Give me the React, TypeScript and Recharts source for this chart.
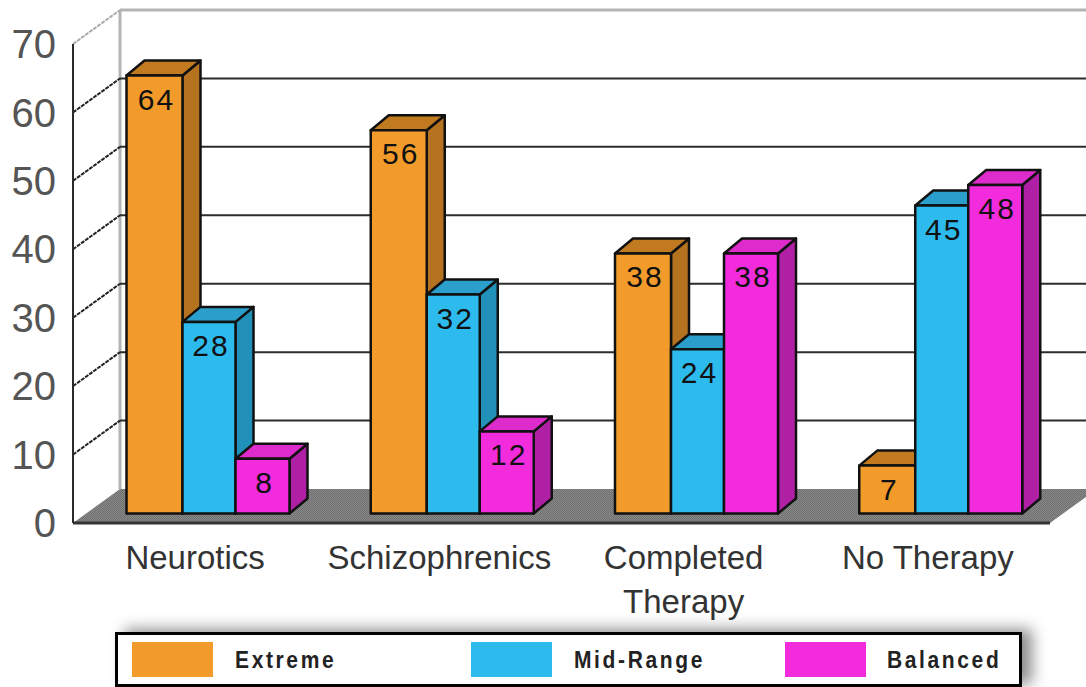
import React from "react";
import { BarChart, Bar, XAxis, YAxis, CartesianGrid, Legend } from "recharts";

const categoryLines = [["Neurotics"], ["Schizophrenics"], ["Completed", "Therapy"], ["No Therapy"]];
const categories = categoryLines.map((l) => l.join(" "));
const extreme = [64, 56, 38, 7];
const midRange = [28, 32, 24, 45];
const balanced = [8, 12, 38, 48];
const yTicks = [0, 10, 20, 30, 40, 50, 60, 70];

const rows = categories.map((name, i) => ({
  name,
  Extreme: extreme[i],
  "Mid-Range": midRange[i],
  Balanced: balanced[i],
}));

const FONT = "'Liberation Sans', Arial, sans-serif";
const W = 1086;
const H = 687;
const WALL_DX = 47;
const WALL_DY = -34;
const BAR_DX = 12.5;
const BAR_DY = -9.5;
const DEPTH_X = 18;
const DEPTH_Y = -15;

const orange = { front: "#F29B2B", top: "#C17A20", side: "#B5721F" };
const blue = { front: "#2DBBEE", top: "#2A9FCC", side: "#2191B9" };
const magenta = { front: "#F22CDD", top: "#DE2BCB", side: "#B020A5" };

function bar3D(colors: { front: string; top: string; side: string }) {
  return (p: any) => {
    const x = p.x + BAR_DX;
    const y = p.y + BAR_DY;
    const w = p.width;
    const h = p.height;
    const line = { stroke: "#111", strokeWidth: 2.5, strokeLinejoin: "round" as const };
    return (
      <g>
        <polygon
          points={`${x + w},${y} ${x + w + DEPTH_X},${y + DEPTH_Y} ${x + w + DEPTH_X},${y + h + DEPTH_Y} ${x + w},${y + h}`}
          fill={colors.side}
          {...line}
        />
        <polygon
          points={`${x},${y} ${x + DEPTH_X},${y + DEPTH_Y} ${x + w + DEPTH_X},${y + DEPTH_Y} ${x + w},${y}`}
          fill={colors.top}
          {...line}
        />
        <rect x={x} y={y} width={w} height={h} fill={colors.front} {...line} />
        <text
          x={x + w / 2 + 2}
          y={y + 34}
          textAnchor="middle"
          fontFamily={FONT}
          fontSize={30}
          letterSpacing={2}
          fill="#111"
        >
          {p.value}
        </text>
      </g>
    );
  };
}

function gridLine(p: any) {
  const { x1, y1 } = p;
  const isTop = y1 <= 45;
  const isBase = y1 >= 522;
  const bx = x1 + WALL_DX;
  const by = y1 + WALL_DY;
  if (isBase) {
    return (
      <g key={p.key ?? "base"}>
        <defs>
          <pattern id="floorDither" width="2" height="2" patternUnits="userSpaceOnUse">
            <rect width="2" height="2" fill="#8A8A8A" />
            <rect width="1" height="1" fill="#6E6E6E" />
            <rect x="1" y="1" width="1" height="1" fill="#6E6E6E" />
          </pattern>
        </defs>
        <polygon
          points={`${x1},${y1} ${x1 + 977},${y1} ${x1 + 977 + 47},${by} ${bx},${by}`}
          fill="url(#floorDither)"
        />
        <line x1={bx} y1={10} x2={bx} y2={by} stroke="#B4B4B4" strokeWidth={3} />
      </g>
    );
  }
  return (
    <g key={p.key ?? y1}>
      <line x1={x1} y1={y1} x2={bx} y2={by} stroke={isTop ? "#aaa" : "#222"} strokeWidth={2} strokeDasharray="4 1" />
      <line x1={bx} y1={by} x2={W} y2={by} stroke={isTop ? "#B4B4B4" : "#2c2c2c"} strokeWidth={isTop ? 3 : 2} />
    </g>
  );
}

function categoryTick(p: any) {
  const lines = categoryLines[categories.indexOf(p.payload.value)] ?? [p.payload.value];
  return (
    <text x={p.x} y={p.y + 24} textAnchor="middle" fontFamily={FONT} fontSize={33} fill="#333">
      {lines.map((t: string, i: number) => (
        <tspan key={t} x={p.x} dy={i === 0 ? 0 : 44}>
          {t}
        </tspan>
      ))}
    </text>
  );
}

const swatchLeft = [17, 356, 670];
const labelLeft = [120, 459, 772];

function legendContent(props: any) {
  const items = props.payload ?? [];
  return (
    <div
      style={{
        position: "relative",
        boxSizing: "border-box",
        width: 907,
        height: 55,
        border: "3px solid #000",
        background: "#fff",
        boxShadow: "10px -3px 14px rgba(0,0,0,0.45)",
      }}
    >
      {items.map((it: any, i: number) => (
        <React.Fragment key={it.value}>
          <div
            style={{
              position: "absolute",
              left: swatchLeft[i] - 3,
              top: 7,
              width: 81,
              height: 35,
              background: it.color,
            }}
          />
          <div
            style={{
              position: "absolute",
              left: labelLeft[i] - 3,
              top: 13,
              fontFamily: FONT,
              fontWeight: 700,
              fontSize: 24,
              lineHeight: "24px",
              letterSpacing: 3,
              color: "#222",
              whiteSpace: "nowrap",
              transform: "scaleX(0.875)",
              transformOrigin: "left center",
            }}
          >
            {it.value}
          </div>
        </React.Fragment>
      ))}
    </div>
  );
}

export default function App() {
  return (
    <div style={{ position: "absolute", left: 0, top: 0, width: W, height: H, background: "#fff", overflow: "hidden" }}>
      <BarChart
        width={W}
        height={H}
        data={rows}
        margin={{ top: 44, right: 36, bottom: 0, left: 0 }}
        barGap={0}
        barCategoryGap={40}
      >
        <CartesianGrid horizontal={gridLine} vertical={false} />
        <XAxis
          dataKey="name"
          interval={0}
          height={109}
          axisLine={{ stroke: "#333", strokeWidth: 3 }}
          tickLine={false}
          tick={categoryTick}
          tickMargin={16}
        />
        <YAxis
          width={73}
          domain={[0, 70]}
          ticks={yTicks}
          interval={0}
          axisLine={{ stroke: "#2a2a2a", strokeWidth: 2 }}
          tickLine={false}
          tickSize={0}
          tickMargin={17}
          tick={{ fontFamily: FONT, fontSize: 40, fill: "#555" }}
        />
        <Legend
          verticalAlign="bottom"
          itemSorter={null}
          content={legendContent}
          wrapperStyle={{ left: 115, top: 632, width: 907, height: 55 }}
        />
        <Bar dataKey="Extreme" fill={orange.front} barSize={56} shape={bar3D(orange)} isAnimationActive={false} />
        <Bar dataKey="Mid-Range" fill={blue.front} barSize={53} shape={bar3D(blue)} isAnimationActive={false} />
        <Bar dataKey="Balanced" fill={magenta.front} barSize={54} shape={bar3D(magenta)} isAnimationActive={false} />
      </BarChart>
    </div>
  );
}
